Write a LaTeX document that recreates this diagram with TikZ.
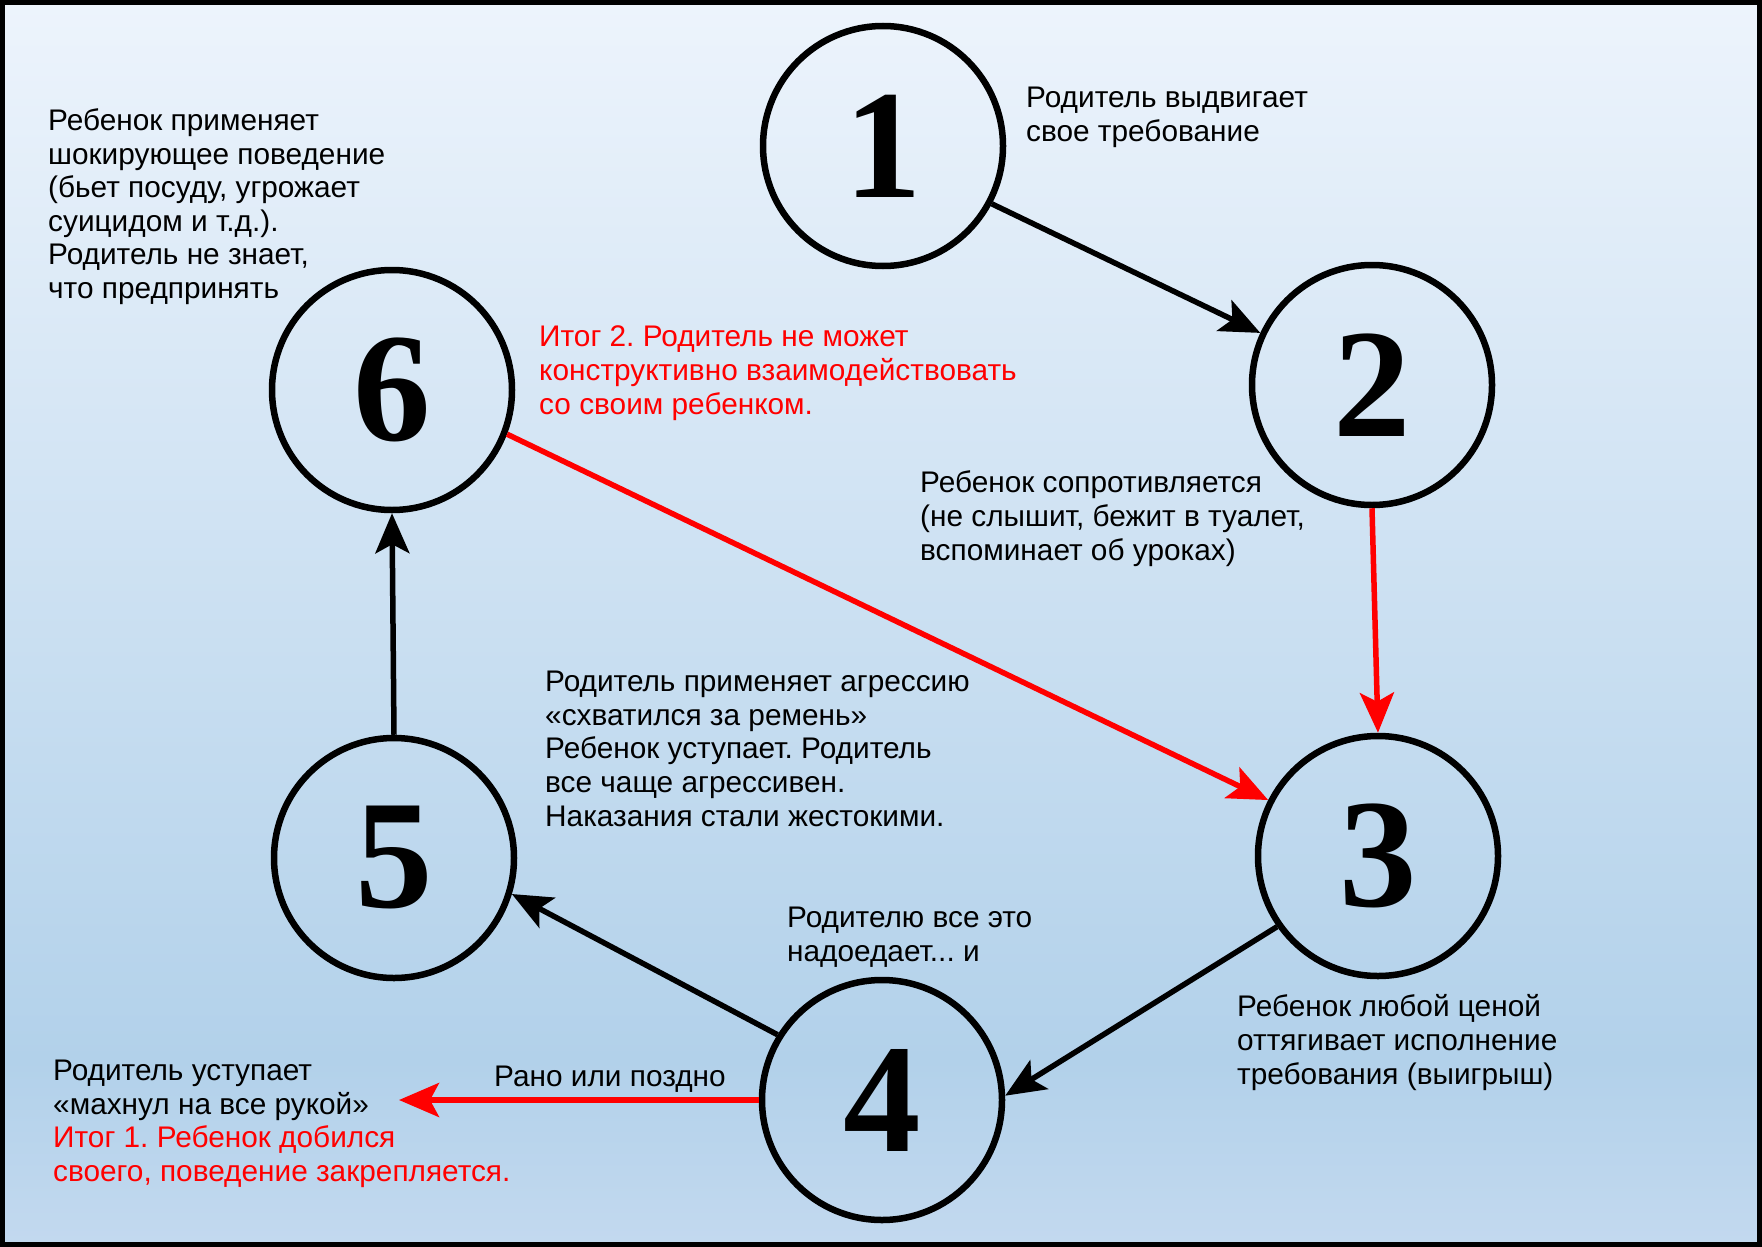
\documentclass[tikz,border=0pt]{standalone}
\usepackage{fontspec}
\setmainfont{Liberation Sans}
\newfontfamily\numfont{Liberation Serif}
\usetikzlibrary{arrows.meta}
\frenchspacing
\definecolor{bgtop}{HTML}{EDF4FC}
\definecolor{bgdark}{HTML}{B2D1EA}
\definecolor{bgbot}{HTML}{C3D9EF}
\definecolor{myred}{HTML}{FF0000}
\pgfdeclareverticalshading{bgshade}{100bp}{color(0bp)=(bgbot); color(25bp)=(bgbot); color(32.5bp)=(bgdark); color(75bp)=(bgtop); color(100bp)=(bgtop)}
\tikzset{
  lbl/.style={anchor=base west, align=left, inner sep=0pt, font=\frenchspacing\fontsize{29.8}{33.6}\selectfont},
  redlbl/.style={lbl, text=myred},
  circ/.style={circle, draw=black, line width=6.5pt, minimum size=240pt, inner sep=0pt,
    font=\numfont\bfseries\fontsize{155}{155}\selectfont},
  arr/.style={line width=5.5pt, -{Stealth[length=40pt,width=34pt,inset=9pt]}},
  redarr/.style={arr, draw=myred, color=myred}
}
\begin{document}
\begin{tikzpicture}[x=1pt,y=-1pt]
\useasboundingbox (0,0) rectangle (1762,1247);
\shade[shading=bgshade] (0,0) rectangle (1762,1247);
\draw[line width=5pt] (2.5,2.5) rectangle (1759.5,1244.5);

\node[circ] (n1) at (883,146) {1};
\node[circ] (n2) at (1372,385) {2};
\node[circ] (n3) at (1378,856) {3};
\node[circ] (n4) at (882,1100) {4};
\node[circ] (n5) at (394,858) {5};
\node[circ] (n6) at (392,390) {6};

\coordinate (leftend) at (399,1100);

\draw[arr] (n1.-28) -- (n2.155);
\draw[redarr] (n2.south) -- (n3.north);
\draw[redarr] (n6.-21) -- (n3.153);
\draw[arr] (n3.215) -- (n4.2);
\draw[arr] (n4.148) -- (n5.-17);
\draw[arr] (n5.north) -- (n6.south);
\draw[redarr] (n4.west) -- (leftend);

% base anchor of a multi-line node is the baseline of its last line
\node[lbl] (t1) at (1026,141.5) {Родитель выдвигает\\свое требование};
\node[lbl] (t6) at (48,298.5) {Ребенок применяет\\шокирующее поведение\\(бьет посуду, угрожает\\суицидом и т.д.).\\Родитель не знает,\\что предпринять};
\node[redlbl] (ti2) at (539,414) {Итог 2. Родитель не может\\конструктивно взаимодействовать\\со своим ребенком.};
\node[lbl] (t2) at (920,560) {Ребенок сопротивляется\\(не слышит, бежит в туалет,\\вспоминает об уроках)};
\node[lbl] (t56) at (545,826) {Родитель применяет агрессию\\«схватился за ремень»\\Ребенок уступает. Родитель\\все чаще агрессивен.\\Наказания стали жестокими.};
\node[lbl] (t4) at (787,961.5) {Родителю все это\\надоедает... и};
\node[lbl] (t3) at (1237,1084) {Ребенок любой ценой\\оттягивает исполнение\\требования (выигрыш)};
\node[lbl] (trano) at (494,1086) {Рано или поздно};
\node[lbl] (tleft) at (53,1181.5) {Родитель уступает\\«махнул на все рукой»\\\textcolor{myred}{Итог 1. Ребенок добился}\\\textcolor{myred}{своего, поведение закрепляется.}};
\end{tikzpicture}
\end{document}
